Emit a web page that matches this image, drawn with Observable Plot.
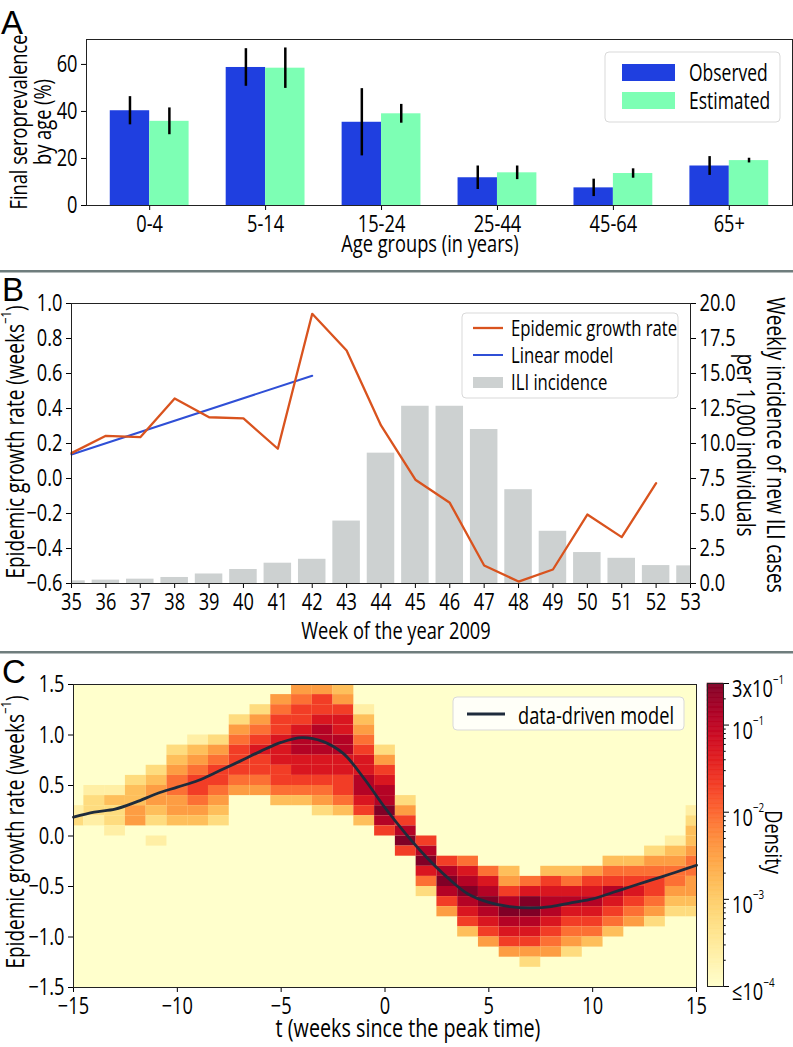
<!DOCTYPE html>
<html><head><meta charset="utf-8">
<script src="https://cdn.jsdelivr.net/npm/d3@7"></script>
<script src="https://cdn.jsdelivr.net/npm/@observablehq/plot@0.6"></script>
<style>
body{margin:0;background:#fff;}
#fig{position:relative;width:793px;height:1047px;overflow:hidden;background:#fff;}
</style></head><body><div id="fig"></div>
<script>
const FONT = '"Open Sans","Liberation Sans",sans-serif';
const SQUEEZE = 0.76;

// ---------- Panel A data ----------
const ageGroups = ["0-4", "5-14", "15-24", "25-44", "45-64", "65+"];
const observed = [40.3, 58.7, 35.4, 11.8, 7.5, 16.8];
const observedErr = [6.0, 8.0, 14.3, 5.0, 3.7, 4.0];
const estimated = [35.8, 58.4, 39.0, 13.9, 13.6, 19.1];
const estimatedErr = [5.7, 8.6, 4.0, 2.9, 2.0, 1.0];
const seroTicks = [0, 20, 40, 60];

// ---------- Panel B data ----------
const growthWeeks = [35, 36, 37, 38, 39, 40, 41, 42, 43, 44, 45, 46, 47, 48, 49, 50, 51, 52];
const growthRate = [0.145, 0.244, 0.236, 0.457, 0.35, 0.343, 0.17, 0.941, 0.731, 0.303, -0.007, -0.139, -0.497, -0.589, -0.52, -0.206, -0.335, -0.027];
const linearWeeks = [35, 42];
const linearRate = [0.137, 0.587];
const iliWeeks = [35, 36, 37, 38, 39, 40, 41, 42, 43, 44, 45, 46, 47, 48, 49, 50, 51, 52, 53];
const iliIncidence = [0.19, 0.24, 0.31, 0.43, 0.68, 1.0, 1.45, 1.73, 4.46, 9.31, 12.66, 12.66, 11.0, 6.7, 3.73, 2.21, 1.8, 1.28, 1.26];
const growthTicks = [-0.6, -0.4, -0.2, 0.0, 0.2, 0.4, 0.6, 0.8, 1.0];
const iliTicks = [0, 2.5, 5, 7.5, 10, 12.5, 15, 17.5, 20];

// ---------- Panel C data ----------
const modelT = [-15, -14, -13, -12, -11, -10, -9, -8, -7, -6, -5, -4, -3, -2, -1, 0, 1, 2, 3, 4, 5, 6, 7, 8, 9, 10, 11, 12, 13, 14, 15];
const modelRate = [0.186, 0.236, 0.266, 0.335, 0.418, 0.484, 0.55, 0.643, 0.739, 0.838, 0.927, 0.974, 0.937, 0.815, 0.567, 0.28, 0.022, -0.21, -0.41, -0.574, -0.657, -0.70, -0.712, -0.70, -0.66, -0.623, -0.557, -0.49, -0.425, -0.359, -0.29];
// density histogram: per week column, top bin edge and density levels (0 = <=1e-4 ... 9 = 3e-1) reading downward in 0.1 bins
const heatT = modelT;
const heatTop = [0.3, 0.5, 0.5, 0.6, 0.7, 0.9, 1.0, 1.0, 1.2, 1.3, 1.4, 1.5, 1.5, 1.5, 1.3, 0.9, 0.4, 0.0, -0.2, -0.2, -0.3, -0.3, -0.4, -0.3, -0.3, -0.3, -0.2, -0.2, -0.1, 0.0, 0.3];
const heatLevels = ["12", "1221", "13221", "23344", "23443201", "23455443", "134566543", "245665432", "24566654", "245676654", "45667776653", "456678877653", "4667888776542", "3467788776653", "134567788763", "246788986", "246896", "689752", "689864", "57898763", "57898764", "346898764", "579987642", "367887654", "357876542", "46787653", "35687653", "3567654", "24566542", "13455432", "12334554432"];
const densityTicks = [0.3, 0.1, 0.01, 0.001, 0.0001];
const densityLabels = [["3x10", "−1"], ["10", "−1"], ["10", "−2"], ["10", "−3"], ["≤10", "−4"]];
const tTicks = [-15, -10, -5, 0, 5, 10, 15];
const cTicks = [-1.5, -1.0, -0.5, 0.0, 0.5, 1.0, 1.5];

const DMIN = 1e-4, DMAX = 0.3;
const levelToDensity = L => Math.pow(10, Math.log10(DMIN) + L * (Math.log10(DMAX) - Math.log10(DMIN)) / 9);

const fig = document.getElementById("fig");
// narrow every text horizontally around its anchor (condensed type); y is unaffected by scale(s,1)
function condense(svg) {
  svg.querySelectorAll("text").forEach(t => {
    if (t.classList.contains("noc")) return;
    const x = t.getAttribute("x");
    let tx = 0;
    if (x !== null && isFinite(+x)) { tx = +x; t.removeAttribute("x"); }
    const T = t.getAttribute("transform") || "";
    t.setAttribute("transform", `${T} translate(${tx},0) scale(${SQUEEZE},1)`);
  });
}
function place(svg, top) {
  svg.style.position = "absolute"; svg.style.left = "0px"; svg.style.top = top + "px";
  svg.style.maxWidth = "none";
  svg.querySelectorAll("text").forEach(t => { t.style.fontSize = "24px"; t.style.fontFamily = FONT; });
  condense(svg);
  fig.appendChild(svg); return svg;
}
const baseStyle = {background: "transparent", fontFamily: FONT, fontSize: "24px", color: "#000", overflow: "visible"};
const minus = s => String(s).replace("-", "−");

// ---------- Panel A ----------
const BAR_W = 0.34;
const obsRows = ageGroups.map((g, i) => ({i, v: observed[i], e: observedErr[i]}));
const estRows = ageGroups.map((g, i) => ({i, v: estimated[i], e: estimatedErr[i]}));
const OBS_C = "#1f3fe0", EST_C = "#7dffb4";
place(Plot.plot({
  width: 793, height: 265, marginLeft: 86, marginRight: 1, marginTop: 39, marginBottom: 60,
  style: baseStyle,
  x: {domain: [-0.545, 5.545], ticks: ageGroups.map((g, i) => i), tickFormat: i => ageGroups[i], tickSize: 5, label: null},
  y: {domain: [0, 70.6], ticks: seroTicks, tickSize: 5, label: null},
  marks: [
    Plot.rect(obsRows, {x1: d => d.i - BAR_W, x2: d => d.i, y1: () => 0, y2: "v", fill: OBS_C}),
    Plot.rect(estRows, {x1: d => d.i, x2: d => d.i + BAR_W, y1: () => 0, y2: "v", fill: EST_C}),
    Plot.ruleX(obsRows, {x: d => d.i - BAR_W / 2, y1: d => d.v - d.e, y2: d => d.v + d.e, stroke: "#000", strokeWidth: 2.5}),
    Plot.ruleX(estRows, {x: d => d.i + BAR_W / 2, y1: d => d.v - d.e, y2: d => d.v + d.e, stroke: "#000", strokeWidth: 2.5}),
    Plot.frame({stroke: "#222"})
  ]
}), 0);

// ---------- Panel B ----------
const B_TOP = 271;
const bDims = {width: 793, height: 380, marginLeft: 71, marginRight: 103, marginTop: 32, marginBottom: 68};
const iliRows = iliWeeks.map((w, i) => ({w, v: iliIncidence[i]}));
place(Plot.plot({
  ...bDims, style: baseStyle,
  x: {domain: [35, 53], axis: null},
  y: {domain: [0, 20], axis: "right", ticks: iliTicks, tickFormat: d => d.toFixed(1), tickSize: 5, label: null},
  marks: [
    Plot.rect(iliRows, {x1: d => Math.max(35, d.w - 0.4), x2: d => Math.min(53, d.w + 0.4), y1: () => 0, y2: "v", fill: "#cdd1d1"})
  ]
}), B_TOP);
const growthRows = growthWeeks.map((w, i) => ({w, r: growthRate[i]}));
const linearRows = linearWeeks.map((w, i) => ({w, r: linearRate[i]}));
place(Plot.plot({
  ...bDims, style: baseStyle,
  x: {domain: [35, 53], ticks: iliWeeks, tickFormat: d => String(d), tickSize: 5, label: null},
  y: {domain: [-0.6, 1.0], ticks: growthTicks, tickFormat: d => minus(d.toFixed(1)), tickSize: 5, label: null},
  marks: [
    Plot.line(linearRows, {x: "w", y: "r", stroke: "#2f4fd6", strokeWidth: 2}),
    Plot.line(growthRows, {x: "w", y: "r", stroke: "#d9531e", strokeWidth: 2.3}),
    Plot.frame({stroke: "#222"})
  ]
}), B_TOP);

// ---------- Panel C ----------
const C_TOP = 651;
const cells = [];
heatT.forEach((t, j) => {
  const levels = heatLevels[j];
  for (let k = 0; k < levels.length; k++) {
    const L = +levels[k];
    if (L === 0) continue;
    const top = heatTop[j] - k * 0.1;
    cells.push({x1: Math.max(-15, t - 0.5), x2: Math.min(15, t + 0.5), y1: top - 0.1, y2: top, d: levelToDensity(L)});
  }
});
const colorSpec = {type: "log", domain: [DMIN, DMAX], scheme: "ylorrd", clamp: true};
const bg = d3.interpolateYlOrRd(0);
const modelRows = modelT.map((t, i) => ({t, r: modelRate[i]}));
place(Plot.plot({
  width: 793, height: 396, marginLeft: 73, marginRight: 97, marginTop: 33, marginBottom: 60,
  style: baseStyle,
  x: {domain: [-15, 15], ticks: tTicks, tickFormat: d => minus(d), tickSize: 5, label: null},
  y: {domain: [-1.5, 1.5], ticks: cTicks, tickFormat: d => minus(d.toFixed(1)), tickSize: 5, label: null},
  color: colorSpec,
  marks: [
    Plot.frame({fill: bg}),
    Plot.rect(cells, {x1: "x1", x2: "x2", y1: "y1", y2: "y2", fill: "d"}),
    Plot.line(modelRows, {x: "t", y: "r", stroke: "#1e2b3c", strokeWidth: 2.8, curve: "catmull-rom"}),
    Plot.frame({stroke: "#222"})
  ]
}), C_TOP);

// colour bar
const nStops = 240;
const lo = Math.log10(DMIN), hi = Math.log10(DMAX);
const stops = d3.range(nStops).map(i => ({a: Math.pow(10, lo + (hi - lo) * i / nStops), b: Math.pow(10, lo + (hi - lo) * (i + 1) / nStops)}));
const minorTicks = [];
[-4, -3, -2, -1].forEach(e => { for (let m = 2; m <= 9; m++) { const v = m * Math.pow(10, e); if (v < DMAX) minorTicks.push(v); } });
place(Plot.plot({
  width: 793, height: 396, marginLeft: 707, marginRight: 70, marginTop: 32, marginBottom: 61,
  style: baseStyle,
  x: {domain: [0, 1], axis: null},
  y: {type: "log", domain: [DMIN, DMAX], axis: "right", ticks: densityTicks, tickFormat: () => "", tickSize: 5, label: null},
  color: colorSpec,
  marks: [
    Plot.rect(stops, {x1: () => 0, x2: () => 1, y1: "a", y2: "b", fill: d => Math.sqrt(d.a * d.b), stroke: d => Math.sqrt(d.a * d.b), strokeWidth: 0.6}),
    Plot.ruleY(minorTicks, {y: d => d, x1: () => 1, x2: () => 1.17, stroke: "#000"}),
    Plot.frame({stroke: "#222"})
  ]
}), C_TOP);

// ---------- Overlay: panel letters, separators, axis titles, legends ----------
const ov = d3.select(fig).append("svg")
  .attr("width", 793).attr("height", 1047)
  .style("position", "absolute").style("left", "0px").style("top", "0px")
  .style("pointer-events", "none")
  .style("font-family", FONT).style("font-size", "23px");

[270, 651].forEach(y => ov.append("rect").attr("x", 0).attr("y", y).attr("width", 793).attr("height", 2.5).attr("fill", "#6f7d7d"));

[["A", 1, 34], ["B", 2, 301], ["C", 2, 683]].forEach(([t, x, y]) =>
  ov.append("text").attr("class", "noc").attr("x", x).attr("y", y).text(t)
    .style("font-family", '"Liberation Sans",Arial,sans-serif').style("font-size", "33px"));

function vtext(str, x, y, rot, size) {
  return ov.append("text").attr("transform", `translate(${x},${y}) rotate(${rot})`)
    .attr("text-anchor", "middle").attr("dominant-baseline", "central")
    .style("font-size", (size || 23) + "px").text(str);
}
function htext(str, x, y, size, anchor) {
  return ov.append("text").attr("x", x).attr("y", y).attr("text-anchor", anchor || "middle")
    .style("font-size", (size || 23) + "px").text(str);
}
function growthTitle(x, y) {
  const t = ov.append("text").attr("transform", `translate(${x},${y}) rotate(-90)`)
    .attr("text-anchor", "middle").attr("dominant-baseline", "central").style("font-size", "25px");
  t.append("tspan").text("Epidemic growth rate (weeks");
  t.append("tspan").attr("dy", -9).style("font-size", "15px").text("−1");
  t.append("tspan").attr("dy", 9).text(")");
}
// Panel A titles
vtext("Final seroprevalence", 17, 122, -90, 24);
vtext("by age (%)", 41, 122, -90, 24);
htext("Age groups (in years)", 430, 252, 24);
// Panel B titles
growthTitle(14, 442);
vtext("Weekly incidence of new ILI cases", 777, 445, 90, 25);
vtext("per 1,000 individuals", 747, 445, 90, 25);
htext("Week of the year 2009", 396, 639, 24);
// Panel C titles
growthTitle(14, 832);
htext("t (weeks since the peak time)", 408, 1037, 26);
vtext("Density", 775, 842, 90, 24);

// colour bar labels
const cbY = d3.scaleLog().domain([DMIN, DMAX]).range([986, 683]);
densityTicks.forEach((v, i) => {
  const t = ov.append("text").attr("x", 732).attr("y", cbY(v) + 4).attr("dominant-baseline", "central").style("font-size", "24px");
  t.append("tspan").text(densityLabels[i][0]);
  t.append("tspan").attr("dy", -9).style("font-size", "13px").text(densityLabels[i][1]);
});

function legendBox(x, y, w, h) {
  ov.append("rect").attr("x", x).attr("y", y).attr("width", w).attr("height", h).attr("rx", 4)
    .attr("fill", "#fff").attr("fill-opacity", 0.85).attr("stroke", "#d9d9d9");
}
// Legend A
legendBox(605, 52, 175, 70);
ov.append("rect").attr("x", 622).attr("y", 64).attr("width", 53).attr("height", 17).attr("fill", OBS_C);
ov.append("rect").attr("x", 622).attr("y", 92).attr("width", 53).attr("height", 17).attr("fill", EST_C);
ov.append("text").attr("x", 689).attr("y", 72).attr("dominant-baseline", "central").text("Observed");
ov.append("text").attr("x", 689).attr("y", 100).attr("dominant-baseline", "central").text("Estimated");
// Legend B
legendBox(462, 313, 216, 85);
ov.append("line").attr("x1", 473).attr("x2", 503).attr("y1", 328).attr("y2", 328).attr("stroke", "#d9531e").attr("stroke-width", 2.3);
ov.append("line").attr("x1", 473).attr("x2", 503).attr("y1", 355).attr("y2", 355).attr("stroke", "#2f4fd6").attr("stroke-width", 2);
ov.append("rect").attr("x", 473).attr("y", 377).attr("width", 30).attr("height", 11).attr("fill", "#cdd1d1");
[["Epidemic growth rate", 328], ["Linear model", 355], ["ILI incidence", 382]].forEach(([s, y]) =>
  ov.append("text").attr("x", 511).attr("y", y).attr("dominant-baseline", "central").style("font-size", "22px").text(s));
// Legend C
legendBox(453, 697, 231, 33);
ov.append("line").attr("x1", 467).attr("x2", 505).attr("y1", 714).attr("y2", 714).attr("stroke", "#1e2b3c").attr("stroke-width", 2.8);
ov.append("text").attr("x", 518).attr("y", 714).attr("dominant-baseline", "central").style("font-size", "24px").text("data-driven model");

condense(ov.node());
</script>
</body></html>
